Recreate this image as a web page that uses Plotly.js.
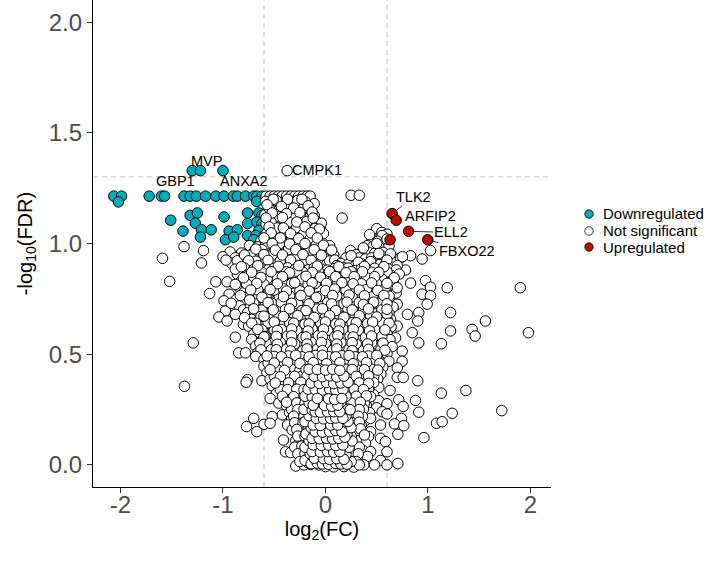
<!DOCTYPE html>
<html><head><meta charset="utf-8">
<script src="https://cdn.plot.ly/plotly-3.0.1.min.js"></script>
<style>html,body{margin:0;padding:0;background:#fff}#chart{width:720px;height:563px}</style>
</head><body><div id="chart"></div>
<script>
// ---- DATA: [log2FC, -log10FDR] ----
const downPts = [[-2.065,1.214],[-1.99,1.214],[-2.02,1.188],[-1.72,1.214],[-1.6,1.214],[-1.57,1.214],[-1.38,1.214],[-1.32,1.214],[-1.26,1.214],[-1.17,1.214],[-1.07,1.214],[-0.99,1.214],[-0.9,1.214],[-0.86,1.214],[-0.78,1.214],[-0.7,1.214],[-0.67,1.214],[-0.62,1.214],[-0.67,1.19],
[-1.30,1.329],[-1.22,1.329],[-1.0,1.329],
[-1.32,1.127],[-1.25,1.138],[-1.51,1.105],[-1.27,1.092],[-0.99,1.12],[-0.76,1.138],[-0.65,1.138],[-0.62,1.127],[-0.76,1.09],[-0.67,1.097],[-0.62,1.09],[-1.39,1.056],[-1.21,1.062],[-1.115,1.062],[-0.94,1.056],[-0.86,1.062],[-0.65,1.059],[-1.22,1.029],[-0.976,1.017],[-0.895,1.029],[-0.76,1.036],[-0.68,1.036],[-0.70,1.017],[-0.62,1.014],[-0.64,1.0]];

const upPts = [[0.63,1.017],[0.65,1.135],[0.69,1.105],[0.81,1.055],[0.998,1.017]];

const nsTop = [[-0.58,1.214],[-0.54,1.214],[-0.5,1.214],[-0.46,1.214],[-0.42,1.214],[-0.38,1.214],[-0.34,1.214],[-0.3,1.214],[-0.26,1.214],[-0.22,1.214],[-0.18,1.214],[-0.15,1.214],[0.25,1.218],[0.33,1.218],[-0.374,1.329],
[-0.585,1.19],[-0.2,1.19],[-0.44,1.185],
[-0.53,1.17],[-0.47,1.165],[-0.4,1.172],[-0.35,1.166],[-0.29,1.175],[-0.24,1.168],
[-0.56,1.15],[-0.5,1.145],[-0.43,1.152],[-0.37,1.147],[-0.32,1.143],[-0.26,1.151],[-0.2,1.144],[-0.14,1.155],
[-0.59,1.13],[-0.53,1.124],[-0.47,1.133],[-0.41,1.127],[-0.35,1.121],[-0.29,1.13],[-0.23,1.125],[-0.17,1.133],[-0.11,1.127],
[-0.56,1.108],[-0.5,1.113],[-0.44,1.104],[-0.38,1.11],[-0.32,1.103],[-0.26,1.108],[-0.2,1.113],[-0.14,1.105],[-0.09,1.1],
[-0.58,1.088],[-0.52,1.081],[-0.46,1.09],[-0.4,1.084],[-0.34,1.079],[-0.28,1.087],[-0.22,1.082],[-0.16,1.09],[-0.1,1.079],[-0.05,1.077],
[-0.55,1.062],[-0.49,1.057],[-0.43,1.065],[-0.37,1.059],[-0.31,1.054],[-0.25,1.062],[-0.19,1.057],[-0.13,1.064],[-0.07,1.055],
[-0.59,1.038],[-0.53,1.031],[-0.47,1.04],[-0.41,1.034],[-0.35,1.029],[-0.29,1.037],[-0.23,1.032],[-0.17,1.04],[-0.11,1.03],[-0.05,1.034],
[-0.63,1.012],[-0.56,1.007],[-0.5,1.015],[-0.44,1.009],[-0.38,1.004],[-0.32,1.012],[-0.26,1.007],[-0.2,1.015],[-0.14,1.005],[-0.08,1.01],[-0.03,1.003],
[-0.74,0.99],[-0.66,0.985],[-0.6,0.981],[-0.54,0.988],[-0.48,0.983],[-0.42,0.979],[-0.36,0.987],[-0.3,0.982],[-0.24,0.99],[-0.18,0.979],[-0.12,0.986],[-0.06,0.98],[0.0,0.977],
[-0.93,0.962],[-0.82,0.957],[-0.7,0.96],[-0.64,0.954],[-0.57,0.962],[-0.51,0.957],[-0.45,0.965],[-0.39,0.96],[-0.33,0.954],[-0.27,0.962],[-0.21,0.957],[-0.15,0.964],[-0.09,0.955],[-0.03,0.96],[0.03,0.954],
[-1.0,0.94],[-0.88,0.935],[-0.77,0.938],[-0.67,0.931],[-0.61,0.938],[-0.55,0.933],[-0.49,0.929],[-0.43,0.937],[-0.37,0.932],[-0.31,0.94],[-0.25,0.929],[-0.19,0.936],[-0.13,0.931],[-0.07,0.938],[-0.01,0.929],[0.05,0.935],
[-0.92,0.912],[-0.8,0.907],[-0.72,0.91],[-0.65,0.904],[-0.59,0.912],[-0.53,0.907],[-0.47,0.914],[-0.41,0.91],[-0.35,0.904],[-0.29,0.912],[-0.23,0.907],[-0.17,0.914],[-0.11,0.905],[-0.05,0.91],[0.01,0.904],[0.07,0.912]];

const nsTopFill = [[-0.48,1.195],[-0.33,1.19],[-0.27,1.195],[-0.11,1.18],[-0.55,1.16],[-0.38,1.158],[-0.21,1.162],[-0.45,1.12],[-0.3,1.118],[-0.15,1.12],[-0.53,1.095],[-0.36,1.097],[-0.18,1.1],[-0.04,1.092],[-0.47,1.07],[-0.28,1.072],[-0.1,1.068],[-0.57,1.047],[-0.4,1.05],[-0.21,1.046],[-0.02,1.045],[-0.5,1.022],[-0.33,1.024],[-0.15,1.02],[-0.58,0.997],[-0.45,0.998],[-0.27,0.995],[-0.09,0.993],[0.04,0.99],[-0.62,0.972],[-0.36,0.973],[-0.18,0.97],[-0.05,0.968],[-0.73,0.948],[-0.52,0.947],[-0.28,0.945],[-0.12,0.944],[0.08,0.948],[-0.86,0.922],[-0.68,0.92],[-0.44,0.922],[-0.2,0.92],[0.04,0.921],
[-0.51,1.2],[-0.37,1.2],[-0.23,1.2],[-0.57,1.175],[-0.43,1.168],[-0.31,1.16],[-0.17,1.17],[-0.52,1.138],[-0.38,1.135],[-0.25,1.14],[-0.13,1.142],[-0.58,1.115],[-0.42,1.117],[-0.28,1.097],[-0.12,1.115],[-0.55,1.075],[-0.41,1.07],[-0.2,1.075],[-0.06,1.065],[-0.53,1.048],[-0.34,1.045],[-0.14,1.048],[-0.6,1.025],[-0.44,1.025],[-0.26,1.022],[-0.08,1.025],[-0.52,1.0],[-0.35,0.998],[-0.2,1.0],[-0.02,0.992],[-0.68,0.975],[-0.49,0.97],[-0.29,0.972],[-0.11,0.972],[0.06,0.97],[-0.79,0.948],[-0.6,0.95],[-0.42,0.948],[-0.22,0.95],[-0.04,0.947],[-0.97,0.925],[-0.75,0.922],[-0.56,0.924],[-0.34,0.925],[-0.14,0.924],[0.09,0.925]];

const nsRightTop = [[0.163,1.115],[0.5,1.067],[0.55,1.05],[0.6,1.042],[0.455,1.021],[0.553,1.036],[0.51,1.01],[0.58,1.005],[0.407,0.99],[0.46,0.985],[0.53,0.98],[0.62,0.99],[0.36,0.965],[0.42,0.96],[0.48,0.955],[0.56,0.96],[0.244,0.968],[0.3,0.95],[0.2,0.935],[0.27,0.925],[0.33,0.935],[0.39,0.93],[0.45,0.935],[0.51,0.93],[0.57,0.938],[0.64,0.94],[0.15,0.91],[0.22,0.905],[0.29,0.9],[0.35,0.908],[0.41,0.902],[0.47,0.91],[0.53,0.905],[0.59,0.91],[0.66,0.915],[0.73,0.935],[0.83,0.945],[0.943,0.93],[1.024,0.968],[0.634,0.953],[0.75,0.94],[0.78,0.88],[0.66,0.877],
[0.43,1.04],[0.5,1.0],[0.6,1.02],[0.37,0.98],[0.52,0.955],[0.25,0.945],[0.32,0.915],[0.44,0.918],[0.6,0.925],[0.7,0.9],[0.18,0.89],[0.11,0.9]];

const nsOutliers = [[-1.38,0.986],[-1.59,0.933],[-1.19,0.968],[-1.21,0.912],[-1.52,0.829],[-0.86,0.862]];

const nsMid = [[-0.88,0.884],[-0.79,0.889],[-0.7,0.882],[-0.63,0.887],[-0.56,0.881],[-0.5,0.888],[-0.43,0.883],[-0.37,0.89],[-0.3,0.882],[-0.24,0.886],[-0.17,0.881],[-0.11,0.889],[-0.04,0.884],[0.02,0.88],[0.09,0.887],[0.16,0.882],[0.22,0.889],[0.29,0.878],[0.35,0.886],[0.42,0.881],[0.48,0.888],[0.55,0.879],[0.61,0.886],[0.69,0.881],
[-0.75,0.857],[-0.67,0.864],[-0.6,0.858],[-0.53,0.855],[-0.47,0.862],[-0.4,0.857],[-0.34,0.864],[-0.27,0.855],[-0.21,0.861],[-0.14,0.856],[-0.08,0.863],[-0.01,0.858],[0.05,0.864],[0.12,0.855],[0.19,0.861],[0.25,0.856],[0.32,0.862],[0.38,0.857],[0.45,0.864],[0.51,0.855],[0.58,0.86],[0.64,0.856],[0.72,0.862],
[-1.07,0.827],[-0.96,0.827],[-0.82,0.832],[-0.72,0.826],[-0.65,0.833],[-0.58,0.828],[-0.52,0.834],[-0.45,0.826],[-0.39,0.831],[-0.32,0.835],[-0.26,0.827],[-0.19,0.832],[-0.13,0.826],[-0.06,0.834],[0.0,0.829],[0.07,0.826],[0.14,0.833],[0.2,0.827],[0.27,0.832],[0.33,0.826],[0.4,0.834],[0.46,0.828],[0.53,0.833],[0.59,0.827],[0.66,0.832],[0.83,0.821],[0.976,0.832],
[-0.85,0.806],[-0.77,0.801],[-0.69,0.808],[-0.62,0.803],[-0.55,0.809],[-0.49,0.802],[-0.42,0.807],[-0.36,0.8],[-0.29,0.806],[-0.23,0.81],[-0.16,0.802],[-0.1,0.807],[-0.03,0.801],[0.03,0.808],[0.1,0.803],[0.17,0.809],[0.23,0.801],[0.3,0.806],[0.36,0.8],[0.43,0.807],[0.49,0.802],[0.57,0.817],[0.65,0.817],[1.024,0.803],[1.187,0.8],[1.9,0.8],
[-1.13,0.774],[-0.94,0.771],[-0.8,0.777],[-0.71,0.772],[-0.64,0.779],[-0.57,0.773],[-0.51,0.778],[-0.44,0.771],[-0.38,0.777],[-0.31,0.772],[-0.25,0.779],[-0.18,0.773],[-0.12,0.778],[-0.05,0.771],[0.01,0.776],[0.08,0.772],[0.15,0.779],[0.21,0.773],[0.28,0.778],[0.34,0.771],[0.41,0.777],[0.47,0.773],[0.54,0.779],[0.6,0.772],[0.69,0.776],[0.943,0.771],[1.024,0.764],
[-0.99,0.741],[-0.87,0.747],[-0.78,0.743],[-0.68,0.749],[-0.61,0.742],[-0.55,0.748],[-0.48,0.743],[-0.42,0.75],[-0.35,0.741],[-0.29,0.746],[-0.22,0.742],[-0.16,0.749],[-0.09,0.744],[-0.03,0.74],[0.04,0.747],[0.11,0.742],[0.17,0.748],[0.24,0.741],[0.3,0.746],[0.37,0.742],[0.43,0.749],[0.5,0.743],[0.56,0.748],[0.63,0.741],[0.7,0.726],[0.992,0.726],
[-0.976,0.695],[-0.84,0.718],[-0.8,0.7],[-0.73,0.716],[-0.66,0.711],[-0.59,0.718],[-0.53,0.712],[-0.46,0.719],[-0.4,0.713],[-0.33,0.717],[-0.27,0.71],[-0.2,0.716],[-0.14,0.712],[-0.07,0.719],[-0.01,0.711],[0.06,0.717],[0.13,0.713],[0.19,0.718],[0.26,0.71],[0.32,0.716],[0.39,0.711],[0.45,0.718],[0.52,0.712],[0.58,0.717],[0.66,0.713],[0.8,0.68],[0.91,0.688],[1.22,0.688],
[-0.88,0.68],[-0.76,0.687],[-0.69,0.682],[-0.62,0.689],[-0.56,0.683],[-0.49,0.688],[-0.43,0.681],[-0.36,0.687],[-0.3,0.682],[-0.23,0.689],[-0.17,0.683],[-0.1,0.688],[-0.04,0.681],[0.03,0.686],[0.1,0.682],[0.16,0.689],[0.23,0.683],[0.29,0.688],[0.36,0.681],[0.42,0.687],[0.49,0.682],[0.55,0.689],[0.62,0.683],[0.634,0.658],
[-1.04,0.668],[-0.96,0.65],[-0.8,0.635],[-0.72,0.657],[-0.65,0.652],[-0.58,0.659],[-0.52,0.653],[-0.45,0.658],[-0.39,0.651],[-0.32,0.657],[-0.26,0.652],[-0.19,0.659],[-0.13,0.653],[-0.06,0.658],[0.0,0.651],[0.07,0.656],[0.14,0.652],[0.2,0.659],[0.27,0.653],[0.33,0.658],[0.4,0.651],[0.46,0.657],[0.53,0.652],[0.6,0.658],[0.7,0.627],[0.9,0.65],[1.56,0.65],
[-0.75,0.627],[-0.67,0.622],[-0.6,0.629],[-0.54,0.623],[-0.47,0.628],[-0.41,0.621],[-0.34,0.627],[-0.28,0.622],[-0.21,0.629],[-0.15,0.623],[-0.08,0.628],[-0.02,0.621],[0.05,0.626],[0.12,0.622],[0.18,0.629],[0.25,0.623],[0.31,0.628],[0.38,0.621],[0.44,0.627],[0.51,0.622],[0.57,0.629],[0.64,0.623],
[-0.7,0.59],[-0.64,0.597],[-0.57,0.592],[-0.51,0.599],[-0.44,0.593],[-0.38,0.598],[-0.31,0.591],[-0.25,0.597],[-0.18,0.592],[-0.12,0.599],[-0.05,0.593],[0.01,0.598],[0.08,0.591],[0.15,0.596],[0.21,0.592],[0.28,0.599],[0.34,0.593],[0.41,0.598],[0.47,0.591],[0.54,0.597],[0.6,0.592],[0.683,0.574],[0.846,0.597],[1.22,0.605],[1.43,0.612],[1.46,0.582],[1.98,0.597],
[-1.29,0.551],[-0.88,0.577],[-0.72,0.567],[-0.62,0.562],[-0.55,0.569],[-0.49,0.563],[-0.42,0.568],[-0.36,0.561],[-0.29,0.567],[-0.23,0.562],[-0.16,0.569],[-0.1,0.563],[-0.03,0.568],[0.03,0.561],[0.1,0.566],[0.17,0.562],[0.23,0.569],[0.3,0.563],[0.36,0.568],[0.43,0.561],[0.49,0.567],[0.56,0.562],[0.63,0.566],[0.91,0.551],[1.13,0.547],
[-0.68,0.537],[-0.6,0.532],[-0.53,0.539],[-0.47,0.533],[-0.4,0.538],[-0.34,0.531],[-0.27,0.537],[-0.21,0.532],[-0.14,0.539],[-0.08,0.533],[-0.01,0.538],[0.05,0.531],[0.12,0.536],[0.19,0.532],[0.25,0.539],[0.32,0.533],[0.38,0.538],[0.45,0.531],[0.51,0.537],[0.57,0.53],[0.65,0.534],
[-0.846,0.506],[-0.78,0.506],[-0.66,0.507],[-0.58,0.502],[-0.51,0.509],[-0.45,0.503],[-0.38,0.508],[-0.32,0.501],[-0.25,0.507],[-0.19,0.502],[-0.12,0.509],[-0.06,0.503],[0.01,0.508],[0.07,0.501],[0.14,0.506],[0.21,0.502],[0.27,0.509],[0.34,0.503],[0.4,0.508],[0.47,0.501],[0.53,0.507],[0.6,0.502],[0.748,0.514]];

const nsMidFill = [[-0.45,0.52],[-0.3,0.518],[-0.15,0.522],[0.0,0.519],[0.15,0.521],[0.3,0.517],
[-0.52,0.55],[-0.37,0.548],[-0.22,0.552],[-0.07,0.549],[0.08,0.551],[0.22,0.547],[0.38,0.55],
[-0.44,0.58],[-0.29,0.578],[-0.14,0.582],[0.02,0.579],[0.16,0.581],[0.31,0.577],
[-0.5,0.61],[-0.36,0.608],[-0.2,0.612],[-0.05,0.609],[0.1,0.611],[0.24,0.607],[0.4,0.61],
[-0.42,0.64],[-0.28,0.638],[-0.12,0.642],[0.03,0.639],[0.18,0.641],[0.34,0.637],
[-0.55,0.67],[-0.38,0.668],[-0.23,0.672],[-0.08,0.669],[0.07,0.671],[0.21,0.667],[0.37,0.67],
[-0.47,0.7],[-0.31,0.698],[-0.16,0.702],[0.0,0.699],[0.14,0.701],[0.29,0.697],
[-0.52,0.73],[-0.37,0.728],[-0.2,0.732],[-0.05,0.729],[0.09,0.731],[0.25,0.727],[0.41,0.73],
[-0.45,0.76],[-0.28,0.758],[-0.14,0.762],[0.04,0.759],[0.19,0.761],[0.33,0.757],
[-0.5,0.79],[-0.33,0.788],[-0.19,0.792],[-0.06,0.789],[0.13,0.791],[0.26,0.787],
[-0.41,0.818],[-0.26,0.815],[-0.1,0.82],[0.05,0.817],[0.2,0.816],
[-0.47,0.845],[-0.31,0.843],[-0.16,0.847],[0.0,0.844],[0.15,0.846],[0.3,0.842],
[-0.38,0.872],[-0.22,0.87],[-0.07,0.874],[0.08,0.871],
[-0.62,0.87],[-0.28,0.875],[0.25,0.873],[0.45,0.87],[0.6,0.872],[-0.7,0.845],[-0.57,0.84],[-0.23,0.84],[0.08,0.84],[0.22,0.843],[0.4,0.845],[0.55,0.84],[-0.77,0.818],[-0.6,0.815],[-0.33,0.82],[-0.17,0.815],[0.12,0.82],[0.35,0.818],[0.5,0.818],[-0.66,0.79],[-0.41,0.795],[-0.25,0.786],[0.05,0.79],[0.2,0.79],[0.4,0.792],[0.58,0.795],[-0.75,0.76],[-0.58,0.762],[-0.35,0.763],[-0.2,0.757],[-0.06,0.76],[0.11,0.763],[0.26,0.758],[0.46,0.76],[0.62,0.762],[-0.7,0.73],[-0.43,0.735],[-0.27,0.728],[-0.12,0.735],[0.02,0.732],[0.18,0.728],[0.33,0.734],[0.52,0.73],[-0.62,0.7],[-0.39,0.702],[-0.23,0.697],[-0.08,0.704],[0.07,0.7],[0.22,0.703],[0.37,0.7],[0.55,0.7],[-0.63,0.67],[-0.46,0.672],[-0.3,0.666],[-0.15,0.673],[0.0,0.668],[0.14,0.673],[0.29,0.667],[0.44,0.672],[0.6,0.68],[-0.68,0.64],[-0.56,0.642],[-0.35,0.642],[-0.2,0.636],[-0.05,0.642],[0.1,0.637],[0.26,0.643],[0.41,0.638],[0.55,0.642],[-0.62,0.61],[-0.43,0.612],[-0.28,0.607],[-0.13,0.613],[0.02,0.608],[0.17,0.613],[0.32,0.607],[0.48,0.612],[-0.59,0.58],[-0.37,0.582],[-0.22,0.576],[-0.07,0.583],[0.09,0.578],[0.24,0.583],[0.39,0.577],[0.55,0.58],[-0.58,0.55],[-0.44,0.553],[-0.3,0.547],[-0.14,0.554],[0.0,0.548],[0.15,0.553],[0.3,0.547],[0.45,0.552],[-0.53,0.52],[-0.38,0.523],[-0.22,0.516],[-0.08,0.523],[0.07,0.518],[0.23,0.522],[0.37,0.516],[0.54,0.52],
[-0.82,0.895],[-0.66,0.9],[-0.46,0.897],[-0.26,0.9],[-0.08,0.898],[0.13,0.895],[0.38,0.897],[0.57,0.895],
[-0.72,0.87],[-0.53,0.872],[-0.35,0.868],[-0.13,0.869],[0.04,0.873],[0.2,0.868],[0.36,0.872],[0.52,0.87],
[-0.8,0.845],[-0.63,0.847],[-0.42,0.85],[-0.19,0.852],[-0.05,0.848],[0.1,0.85],[0.28,0.85],[0.48,0.85],[0.67,0.845],
[-0.88,0.815],[-0.67,0.82],[-0.47,0.818],[-0.3,0.823],[-0.13,0.822],[0.01,0.82],[0.16,0.823],[0.27,0.818],[0.45,0.822],[0.6,0.82],
[-0.73,0.79],[-0.54,0.792],[-0.38,0.785],[-0.16,0.785],[0.0,0.787],[0.09,0.794],[0.33,0.79],[0.51,0.788],[0.7,0.8],
[-0.83,0.765],[-0.62,0.757],[-0.41,0.76],[-0.24,0.765],[-0.09,0.756],[0.07,0.765],[0.23,0.767],[0.38,0.764],[0.57,0.765],
[-0.92,0.73],[-0.74,0.745],[-0.56,0.733],[-0.33,0.73],[-0.16,0.727],[0.06,0.727],[0.21,0.735],[0.37,0.725],[0.47,0.735],[0.6,0.728],
[-0.7,0.705],[-0.51,0.7],[-0.35,0.705],[-0.19,0.697],[-0.03,0.705],[0.1,0.697],[0.26,0.7],[0.42,0.705],[0.6,0.703],
[-0.79,0.665],[-0.6,0.672],[-0.41,0.67],[-0.27,0.674],[-0.11,0.666],[0.04,0.674],[0.18,0.667],[0.33,0.674],[0.5,0.668],
[-0.72,0.64],[-0.5,0.645],[-0.31,0.64],[-0.16,0.637],[0.0,0.645],[0.14,0.636],[0.3,0.642],[0.46,0.645],[0.62,0.64],
[-0.66,0.612],[-0.47,0.607],[-0.33,0.614],[-0.17,0.605],[-0.02,0.613],[0.13,0.605],[0.27,0.613],[0.43,0.605],[0.58,0.61],
[-0.6,0.578],[-0.48,0.58],[-0.33,0.583],[-0.19,0.578],[-0.03,0.58],[0.12,0.583],[0.27,0.578],[0.45,0.582],
[-0.64,0.55],[-0.47,0.545],[-0.33,0.552],[-0.18,0.546],[-0.04,0.553],[0.11,0.546],[0.26,0.552],[0.41,0.546],[0.56,0.55],
[-0.63,0.52],[-0.48,0.52],[-0.34,0.515],[-0.18,0.524],[-0.03,0.516],[0.11,0.524],[0.26,0.516],[0.42,0.522],[0.58,0.518]];

const nsLow = [[-0.68,0.49],[-0.6,0.477],[-0.53,0.472],[-0.46,0.479],[-0.4,0.473],[-0.33,0.478],[-0.27,0.471],[-0.2,0.477],[-0.14,0.472],[-0.07,0.479],[-0.01,0.473],[0.06,0.478],[0.12,0.471],[0.19,0.476],[0.26,0.472],[0.32,0.479],[0.39,0.473],[0.45,0.478],[0.52,0.471],[0.618,0.468],[0.748,0.468],
[-0.6,0.445],[-0.53,0.448],[-0.48,0.442],[-0.42,0.449],[-0.35,0.443],[-0.29,0.448],[-0.22,0.441],[-0.16,0.447],[-0.09,0.442],[-0.03,0.449],[0.04,0.443],[0.1,0.448],[0.17,0.441],[0.24,0.446],[0.3,0.442],[0.37,0.449],[0.43,0.443],[0.5,0.448],[0.56,0.441],[0.7,0.438],
[-0.57,0.417],[-0.5,0.412],[-0.44,0.419],[-0.37,0.413],[-0.31,0.418],[-0.24,0.411],[-0.18,0.417],[-0.11,0.412],[-0.05,0.419],[0.02,0.413],[0.08,0.418],[0.15,0.411],[0.22,0.416],[0.28,0.412],[0.35,0.419],[0.41,0.413],[0.48,0.418],[0.54,0.411],
[-0.76,0.385],[-0.62,0.38],[-0.54,0.387],[-0.47,0.382],[-0.41,0.389],[-0.34,0.383],[-0.28,0.388],[-0.21,0.381],[-0.15,0.387],[-0.08,0.382],[-0.02,0.389],[0.05,0.383],[0.11,0.388],[0.18,0.381],[0.25,0.386],[0.31,0.382],[0.38,0.389],[0.44,0.383],[0.51,0.388],[0.7,0.395],[0.758,0.395],[0.9,0.38],
[-1.376,0.355],[-0.774,0.373],[-0.52,0.357],[-0.45,0.352],[-0.39,0.359],[-0.32,0.353],[-0.26,0.358],[-0.19,0.351],[-0.13,0.357],[-0.06,0.352],[0.0,0.359],[0.07,0.353],[0.13,0.358],[0.2,0.351],[0.27,0.356],[0.33,0.352],[0.4,0.359],[0.455,0.355],[0.52,0.35],
[-0.48,0.322],[-0.41,0.33],[-0.36,0.327],[-0.3,0.321],[-0.23,0.328],[-0.17,0.322],[-0.1,0.327],[-0.04,0.321],[0.03,0.326],[0.09,0.322],[0.16,0.329],[0.23,0.323],[0.29,0.328],[0.36,0.321],[0.47,0.317],[0.63,0.336],[1.13,0.324],[1.37,0.336],
[-0.54,0.3],[-0.455,0.279],[-0.4,0.297],[-0.34,0.29],[-0.27,0.298],[-0.21,0.292],[-0.14,0.297],[-0.08,0.291],[-0.01,0.296],[0.05,0.292],[0.12,0.299],[0.19,0.293],[0.25,0.298],[0.32,0.291],[0.38,0.297],[0.44,0.27],[0.52,0.29],[0.6,0.276],[0.715,0.294],[0.878,0.291],
[-0.38,0.267],[-0.31,0.262],[-0.25,0.269],[-0.18,0.263],[-0.12,0.268],[-0.05,0.261],[0.01,0.267],[0.08,0.262],[0.14,0.269],[0.21,0.263],[0.28,0.268],[0.34,0.261],[0.4,0.266],[0.5,0.258],[0.758,0.264],
[-0.52,0.218],[-0.42,0.226],[-0.35,0.237],[-0.29,0.232],[-0.22,0.239],[-0.16,0.233],[-0.09,0.238],[-0.03,0.231],[0.04,0.237],[0.1,0.232],[0.17,0.239],[0.23,0.233],[0.3,0.238],[0.36,0.231],[0.43,0.236],[0.553,0.24],[0.6,0.23],[0.91,0.238],[1.236,0.233],[1.72,0.245],
[-0.7,0.21],[-0.33,0.207],[-0.26,0.202],[-0.2,0.209],[-0.13,0.203],[-0.07,0.208],[0.0,0.201],[0.06,0.207],[0.13,0.202],[0.19,0.209],[0.26,0.203],[0.32,0.208],[0.39,0.201],[0.44,0.21],[0.741,0.21],[1.083,0.188],[1.138,0.195],
[-0.77,0.173],[-0.6,0.183],[-0.54,0.188],[-0.37,0.18],[-0.3,0.177],[-0.24,0.183],[-0.17,0.176],[-0.11,0.182],[-0.04,0.177],[0.02,0.184],[0.09,0.178],[0.15,0.183],[0.22,0.176],[0.28,0.182],[0.35,0.177],[0.537,0.18],[0.673,0.185],[0.764,0.177],
[-0.67,0.15],[-0.325,0.158],[-0.27,0.152],[-0.21,0.159],[-0.14,0.153],[-0.08,0.158],[-0.01,0.151],[0.05,0.157],[0.12,0.152],[0.18,0.159],[0.25,0.153],[0.31,0.158],[0.38,0.151],[0.44,0.15],
[-0.41,0.112],[-0.29,0.11],[-0.23,0.127],[-0.17,0.122],[-0.1,0.129],[-0.04,0.123],[0.03,0.128],[0.09,0.121],[0.16,0.127],[0.22,0.122],[0.29,0.129],[0.35,0.123],[0.42,0.128],[0.537,0.12],[0.706,0.138],[0.96,0.123],
[-0.26,0.097],[-0.19,0.092],[-0.13,0.099],[-0.06,0.093],[0.0,0.098],[0.07,0.091],[0.13,0.097],[0.2,0.092],[0.26,0.099],[0.33,0.093],[0.39,0.098],[0.585,0.105],
[-0.39,0.059],[-0.34,0.056],[-0.22,0.067],[-0.16,0.062],[-0.09,0.069],[-0.03,0.063],[0.04,0.068],[0.1,0.061],[0.17,0.067],[0.23,0.062],[0.3,0.069],[0.37,0.063],[0.44,0.06],[0.6,0.059],
[-0.24,0.037],[-0.18,0.032],[-0.11,0.039],[-0.05,0.033],[0.02,0.038],[0.08,0.031],[0.15,0.037],[0.21,0.032],[0.28,0.039],[0.34,0.033],[0.41,0.038],[0.537,0.02],
[-0.29,-0.005],[-0.21,0.0],[-0.146,0.002],[-0.065,0.0],[0.0,-0.008],[0.08,-0.009],[0.18,-0.008],[0.276,-0.01],[0.374,0.0],[0.478,0.0],[0.6,0.0],[0.706,0.006]];

const nsLowFill = [[-0.5,0.49],[-0.36,0.492],[-0.23,0.488],[-0.1,0.494],[0.03,0.489],[0.16,0.493],[0.29,0.488],[0.42,0.492],[-0.56,0.46],[-0.44,0.462],[-0.31,0.458],[-0.19,0.463],[-0.05,0.458],[0.08,0.463],[0.21,0.457],[0.34,0.462],[0.47,0.46],[-0.47,0.43],[-0.33,0.432],[-0.25,0.428],[0.03,0.43],[0.2,0.432],[0.32,0.428],[0.45,0.432],[-0.5,0.4],[-0.37,0.402],[-0.24,0.398],[0.25,0.4],[0.36,0.403],[0.47,0.398],[-0.43,0.37],[-0.3,0.372],[-0.2,0.368],[0.28,0.372],[0.37,0.368],[0.47,0.372],[-0.44,0.34],[-0.32,0.342],[-0.24,0.338],[0.24,0.342],[0.32,0.338],[0.42,0.342],[-0.35,0.31],[-0.27,0.312],[0.26,0.31],[0.35,0.312],[0.44,0.308],[-0.33,0.28],[-0.24,0.283],[0.21,0.28],[0.3,0.283],[0.38,0.279],[-0.33,0.25],[0.29,0.25],[0.37,0.252],[-0.27,0.22],[0.27,0.222],[0.36,0.218],[-0.26,0.19],[0.3,0.192],[-0.23,0.16],[0.28,0.162],[-0.24,0.13],[0.32,0.14],[-0.22,0.1],[0.3,0.11],
[-0.57,0.492],[-0.43,0.488],[-0.29,0.495],[-0.16,0.488],[-0.03,0.495],[0.1,0.488],[0.23,0.494],[0.36,0.488],[0.5,0.495],
[-0.5,0.46],[-0.37,0.463],[-0.25,0.458],[-0.12,0.462],[0.01,0.457],[0.14,0.462],[0.27,0.457],[0.4,0.462],[0.53,0.458],
[-0.54,0.43],[-0.4,0.427],[-0.19,0.43],[-0.05,0.432],[0.1,0.428],[0.26,0.431],[0.38,0.43],[0.51,0.428],
[-0.44,0.398],[-0.3,0.4],[-0.18,0.402],[-0.07,0.397],[0.07,0.4],[0.15,0.395],[0.3,0.4],[0.42,0.402],
[-0.49,0.37],[-0.36,0.37],[-0.24,0.373],[-0.1,0.368],[0.04,0.37],[0.18,0.372],[0.33,0.37],[0.42,0.368],
[-0.37,0.34],[-0.28,0.342],[-0.21,0.34],[-0.07,0.34],[0.07,0.343],[0.2,0.338],[0.28,0.342],[0.37,0.34],
[-0.42,0.31],[-0.31,0.308],[-0.17,0.312],[-0.02,0.31],[0.1,0.308],[0.16,0.315],[0.3,0.31],[0.4,0.312],
[-0.38,0.283],[-0.28,0.28],[-0.2,0.278],[-0.06,0.283],[0.05,0.28],[0.12,0.283],[0.25,0.28],[0.34,0.283],
[-0.27,0.25],[-0.17,0.252],[-0.08,0.25],[0.08,0.252],[0.15,0.25],[0.21,0.253],[0.33,0.25],
[-0.31,0.22],[-0.21,0.22],[-0.11,0.225],[-0.03,0.215],[0.04,0.222],[0.16,0.222],[0.23,0.218],[0.32,0.22],
[-0.3,0.19],[-0.22,0.19],[-0.14,0.19],[-0.07,0.188],[0.07,0.19],[0.19,0.193],[0.26,0.19],[0.33,0.193],
[-0.28,0.16],[-0.17,0.16],[-0.04,0.16],[0.08,0.16],[0.14,0.163],[0.22,0.16],[0.34,0.163],
[-0.27,0.13],[-0.2,0.13],[-0.08,0.135],[0.05,0.13],[0.12,0.134],[0.25,0.13],[0.38,0.135],
[-0.3,0.08],[-0.23,0.085],[-0.16,0.095],[-0.09,0.085],[0.05,0.1],[0.16,0.1],[0.23,0.095],[0.33,0.08],
[-0.27,0.05],[-0.2,0.05],[-0.08,0.045],[0.1,0.04],[0.17,0.05],[0.25,0.045],[0.32,0.05],
[-0.25,0.015],[-0.17,0.01],[-0.06,0.015],[0.0,0.01],[0.07,0.018],[0.16,0.015],[0.23,0.01],[0.3,0.015],[0.33,0.0]];

const nsCore = [[-0.2,0.02],[-0.12,0.015],[-0.02,0.018],[0.05,0.012],[0.12,0.02],[0.25,0.015],
[-0.15,0.05],[-0.06,0.048],[0.01,0.052],[0.07,0.045],[0.14,0.05],[0.2,0.047],
[-0.2,0.08],[-0.1,0.078],[-0.03,0.082],[0.04,0.08],[0.1,0.077],[0.16,0.083],[0.23,0.079],
[-0.16,0.11],[-0.07,0.108],[0.0,0.112],[0.06,0.107],[0.12,0.11],[0.19,0.113],[0.26,0.108],
[-0.19,0.14],[-0.11,0.138],[-0.05,0.142],[0.02,0.137],[0.08,0.14],[0.15,0.143],[0.21,0.139],
[-0.14,0.168],[-0.07,0.165],[0.0,0.17],[0.06,0.166],[0.12,0.169],[0.19,0.164],[0.25,0.168],
[-0.2,0.195],[-0.1,0.192],[-0.03,0.197],[0.03,0.191],[0.1,0.195],[0.16,0.19],[0.22,0.196],
[-0.16,0.222],[-0.06,0.22],[0.0,0.225],[0.07,0.219],[0.13,0.224],[0.2,0.221],
[-0.21,0.25],[-0.13,0.248],[-0.02,0.252],[0.05,0.247],[0.11,0.25],[0.18,0.253],[0.24,0.249],
[-0.16,0.28],[-0.09,0.278],[-0.04,0.282],[0.02,0.277],[0.09,0.28],[0.15,0.283],
[-0.2,0.31],[-0.13,0.308],[-0.06,0.312],[0.0,0.307],[0.06,0.31],[0.12,0.313],[0.2,0.309],
[-0.17,0.342],[-0.1,0.34],[-0.03,0.338],[0.04,0.342],[0.1,0.337],[0.17,0.34],
[-0.14,0.37],[-0.06,0.368],[0.01,0.372],[0.08,0.367],[0.15,0.37],[0.22,0.373],
[-0.11,0.4],[-0.03,0.398],[0.04,0.402],[0.11,0.397],[0.18,0.401],
[-0.16,0.432],[-0.08,0.43],[0.0,0.428],[0.07,0.432],[0.14,0.427],
[-0.14,0.005],[-0.08,0.008],[-0.03,0.004],[0.03,0.003],[0.1,0.006],[0.15,0.004],[0.21,0.003],
[-0.11,0.03],[-0.02,0.028],[0.04,0.025],[0.11,0.028],[0.18,0.025],
[-0.13,0.06],[-0.05,0.058],[0.02,0.06],[0.08,0.057],[0.14,0.06],
[-0.12,0.09],[-0.04,0.088],[0.03,0.09],[0.1,0.087],[0.17,0.09],
[-0.13,0.12],[-0.06,0.118],[0.01,0.12],[0.07,0.117],[0.13,0.12],[0.19,0.125],
[-0.1,0.15],[-0.03,0.148],[0.04,0.15],[0.1,0.155],[0.16,0.15],
[-0.12,0.18],[-0.05,0.178],[0.05,0.18],[0.12,0.18],
[-0.09,0.21],[-0.02,0.208],[0.05,0.21],[0.1,0.212],[0.17,0.21],
[-0.1,0.24],[-0.05,0.238],[0.02,0.24],[0.08,0.24],[0.14,0.24],
[-0.12,0.27],[-0.01,0.268],[0.06,0.265],[0.12,0.27],
[-0.08,0.3],[0.03,0.298],[0.09,0.295],[0.16,0.3]];

// labelled genes: name, log2FC, -log10FDR of the labelled point
const geneNames = ['MVP','GBP1','ANXA2','CMPK1','TLK2','ARFIP2','ELL2','FBXO22'];
const geneFC    = [-1.22,-1.57,-0.78,-0.374,0.65,0.69,0.81,0.998];
const geneFDR   = [1.329,1.214,1.214,1.329,1.135,1.105,1.055,1.017];

const legendNames = ['Downregulated','Not significant','Upregulated'];
const fcCut = 0.6, fdrCut = 1.301;

// ---- STYLE / LAYOUT ----
const colors = ['#00AFBB','#FFFFFF','#BB0C00'];
const labelPlace = [
  {tx:-1.163, ty:1.374, seg:false},
  {tx:-1.459, ty:1.281, seg:false},
  {tx:-0.797, ty:1.281, seg:false},
  {tx:-0.081, ty:1.332, seg:false},
  {tx:0.854,  ty:1.208, seg:true},
  {tx:1.02,   ty:1.125, seg:false},
  {tx:1.22,   ty:1.050, seg:true},
  {tx:1.38,   ty:0.967, seg:true}
];

const nsPts = [].concat(nsTop, nsTopFill, nsRightTop, nsOutliers, nsMid, nsMidFill, nsLow, nsLowFill, nsCore);
const groups = [downPts, nsPts, upPts];
const traces = groups.map((g,i)=>({
  type:'scatter', mode:'markers', name:legendNames[i], showlegend:false,
  x:g.map(p=>p[0]), y:g.map(p=>p[1]), cliponaxis:false,
  marker:{size:10.5, color:colors[i], line:{color:'#000000', width:1.0}},
  hoverinfo:'skip'
}));

const labelFont = {size:14.5, color:'#000', family:'Liberation Sans, Arial, sans-serif'};
const annotations = geneNames.map((n,i)=>{
  const L = labelPlace[i];
  if (!L.seg) return {xref:'x', yref:'y', x:L.tx, y:L.ty, text:n, showarrow:false,
     font:labelFont, xanchor:'center', yanchor:'middle'};
  return {xref:'x', yref:'y', x:geneFC[i], y:geneFDR[i], axref:'x', ayref:'y', ax:L.tx, ay:L.ty,
     text:n, showarrow:true, arrowhead:0, arrowwidth:0.8, arrowcolor:'#000', standoff:5,
     font:labelFont, borderpad:0};
});

// custom legend (pixel-sized circles + text) to the right of the panel
const legX = 1.083, legTextX = 1.109, legY = [0.5606, 0.5257, 0.4928];
const shapesLegend = legendNames.map((n,i)=>({type:'circle', xref:'paper', yref:'paper',
  xsizemode:'pixel', ysizemode:'pixel', xanchor:legX, yanchor:legY[i],
  x0:-4.2, x1:4.2, y0:-4.2, y1:4.2, fillcolor:colors[i], line:{color:'#000', width:0.8}}));
legendNames.forEach((n,i)=>annotations.push({xref:'paper', yref:'paper', x:legTextX, y:legY[i],
  xanchor:'left', yanchor:'middle', text:n, showarrow:false,
  font:{size:15, color:'#000', family:'Liberation Sans, Arial, sans-serif'}}));

const dash = {color:'#C0C0C0', width:1, dash:'5px,4px'};
const shapes = [
  {type:'line', xref:'paper', yref:'y', x0:0, x1:1, y0:fdrCut, y1:fdrCut, line:dash, layer:'below'},
  {type:'line', xref:'x', yref:'paper', x0:-fcCut, x1:-fcCut, y0:0, y1:1, line:dash, layer:'below'},
  {type:'line', xref:'x', yref:'paper', x0:fcCut, x1:fcCut, y0:0, y1:1, line:dash, layer:'below'}
].concat(shapesLegend);

const axisCommon = {showline:true, linecolor:'#000', linewidth:1.1, ticks:'outside', ticklen:5,
  tickwidth:1, tickcolor:'#333', showgrid:false, zeroline:false,
  tickfont:{size:24, color:'#4D4D4D', family:'Liberation Sans, Arial, sans-serif'}};

const layout = {
  width:720, height:563,
  margin:{l:93, r:169, t:0, b:76},
  paper_bgcolor:'#fff', plot_bgcolor:'#fff',
  font:{family:'Liberation Sans, Arial, sans-serif', color:'#000'},
  showlegend:false,
  xaxis:Object.assign({}, axisCommon, {range:[-2.268,2.2], tickvals:[-2,-1,0,1,2],
    ticktext:['-2','-1','0','1','2'], ticklabelstandoff:-9,
    title:{text:'log<sub>2</sub>(FC)', font:{size:20, color:'#000'}, standoff:2}}),
  yaxis:Object.assign({}, axisCommon, {range:[-0.1,2.1], tickvals:[0,0.5,1,1.5,2],
    ticktext:['0.0','0.5','1.0','1.5','2.0'],
    title:{text:'-log<sub>10</sub>(FDR)', font:{size:20, color:'#000'}, standoff:10}}),
  shapes:shapes, annotations:annotations, hovermode:false
};

Plotly.newPlot('chart', traces, layout, {staticPlot:true, displayModeBar:false});
</script></body></html>
